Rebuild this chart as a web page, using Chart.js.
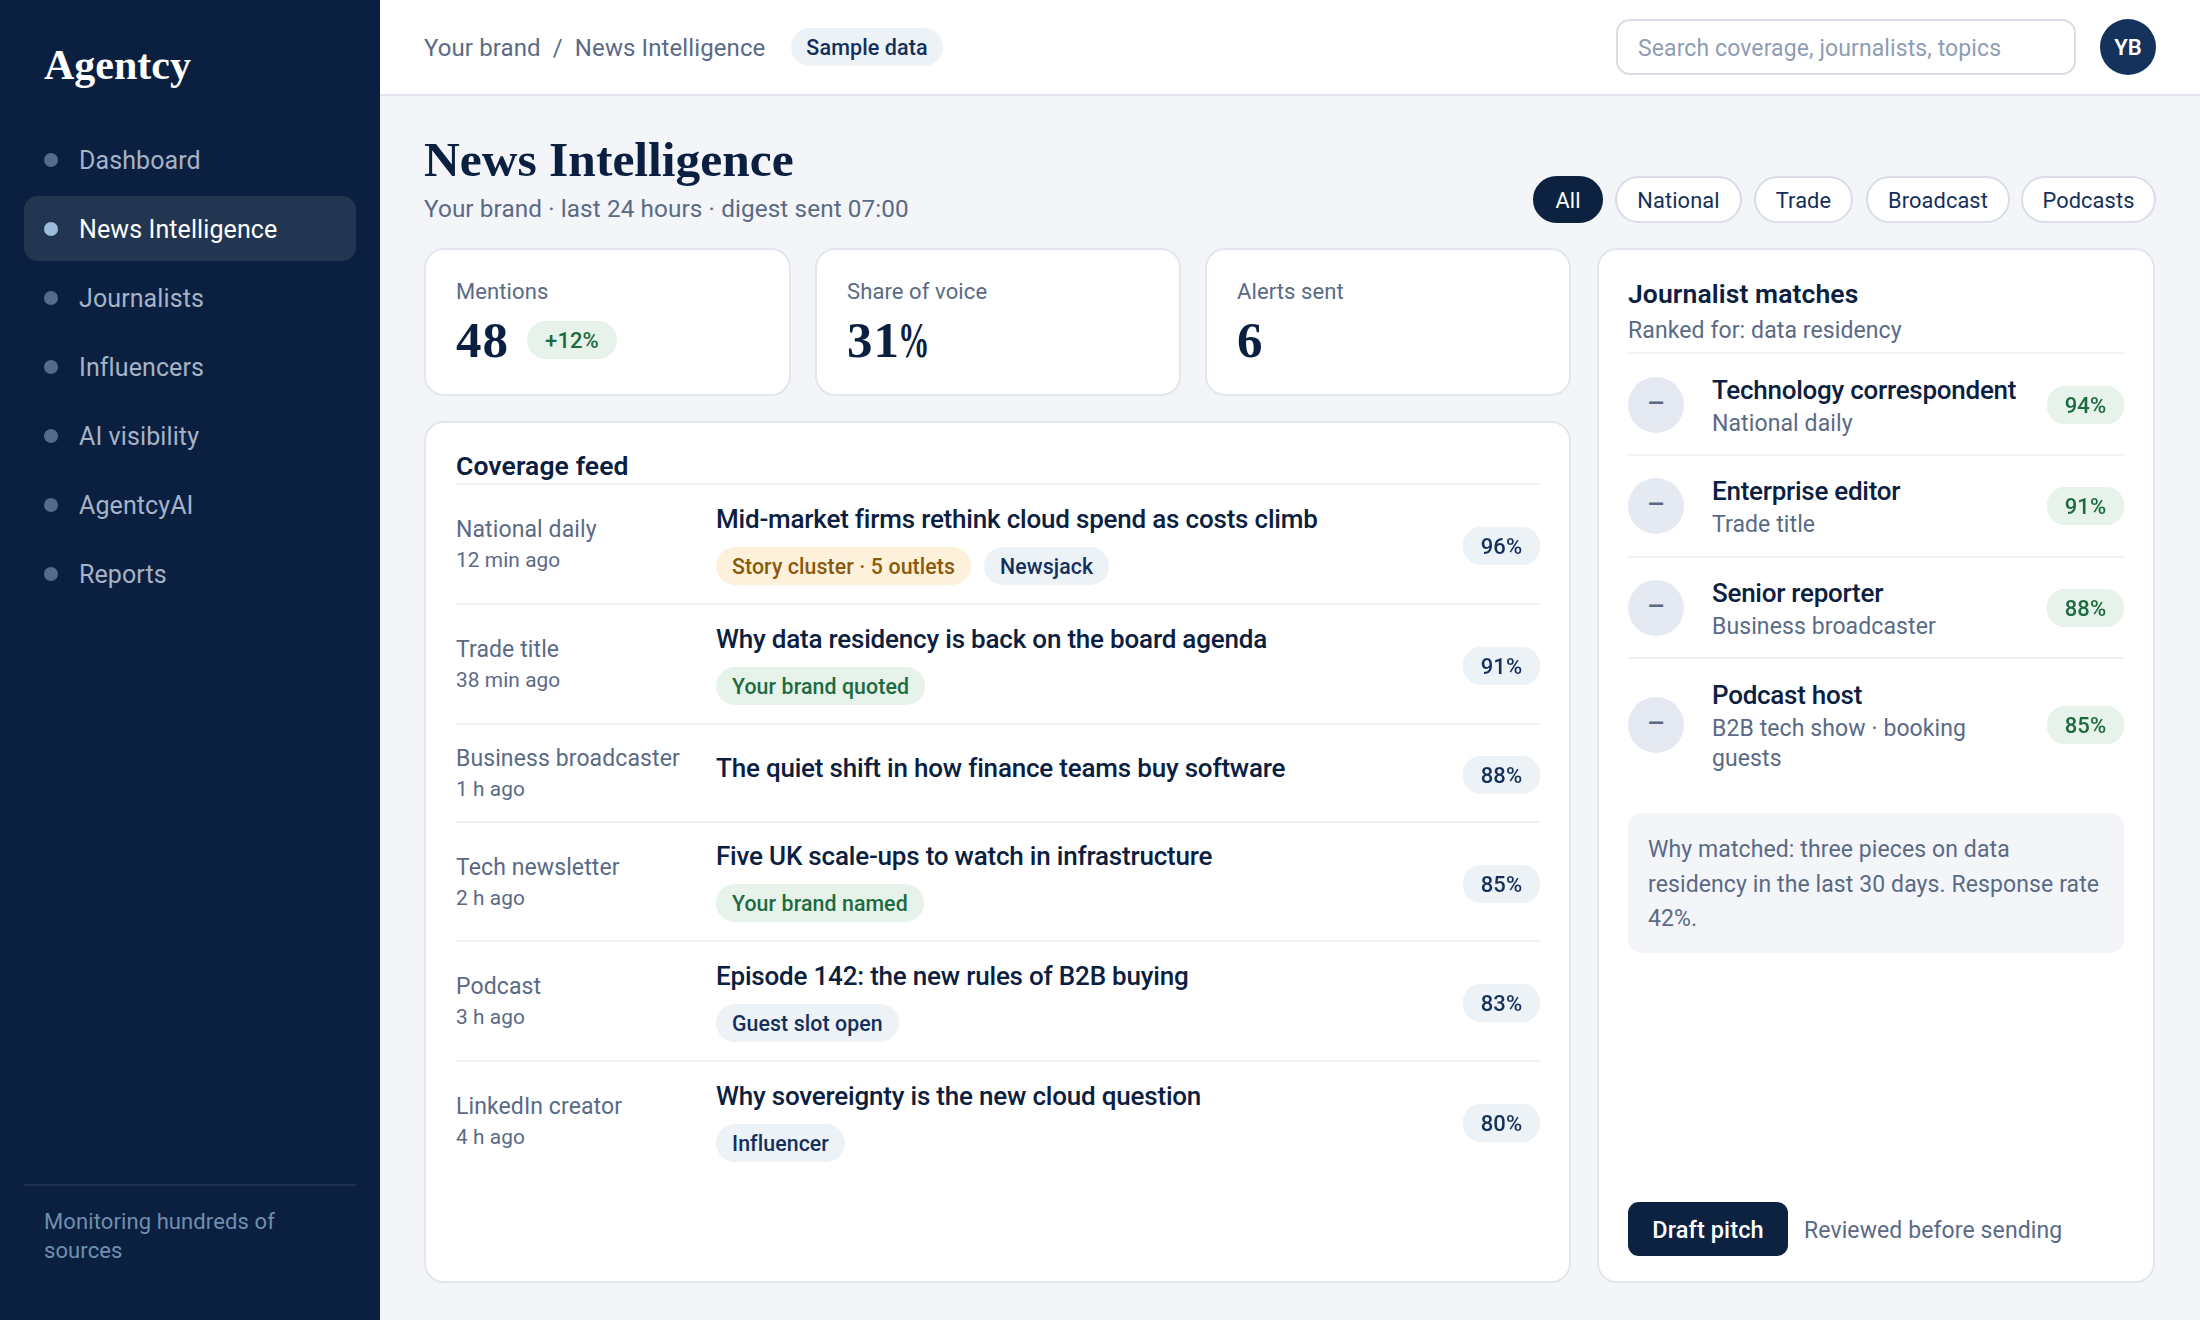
<!DOCTYPE html>
<html lang="en">
<head>
<meta charset="utf-8">
<title>News Intelligence</title>
<script src="https://cdn.jsdelivr.net/npm/chart.js@4"></script>
<style>
* { box-sizing: border-box; }
html, body { margin: 0; width: 2200px; height: 1320px; overflow: hidden; background: #f3f5f9; }
body { font-family: Roboto, sans-serif; color: #0b2040; font-size: 23px; letter-spacing: 0.1px; position: relative; }
.serif { font-family: "Liberation Serif", serif; font-weight: 700; letter-spacing: 0; }
.abs { position: absolute; }
.muted { color: #5a6a85; }

#sidebar { left: 0; top: 0; width: 380px; height: 1320px; background: #0b2040; }
#logo { left: 44px; top: 40px; font-size: 42px; line-height: 50px; color: #fff; }
.nav { position: absolute; left: 24px; width: 332px; height: 65px; border-radius: 14px; color: #a6b3c6; font-size: 25px; line-height: 67px; padding-left: 55px; }
.nav::before { content: ""; position: absolute; left: 20px; top: 26px; width: 14px; height: 14px; border-radius: 50%; background: #566a8a; }
.nav.active { background: #233651; color: #fff; }
.nav.active::before { background: #9dbcdc; }
#side-rule { left: 24px; top: 1184px; width: 332px; height: 2px; background: #1f3350; }
#side-note { left: 44px; top: 1207px; width: 300px; font-size: 22px; line-height: 29px; color: #6f8fb0; }

#topbar { left: 380px; top: 0; width: 1820px; height: 96px; background: #fff; border-bottom: 2px solid #e2e6ed; }
#crumb { left: 424px; top: 30px; font-size: 24px; line-height: 36px; color: #5a6a85; white-space: pre; }
#sample { left: 791px; top: 28px; width: 152px; height: 38px; border-radius: 19px; background: #edf2f7; color: #14305a; font-size: 21.5px; font-weight: 500; line-height: 40px; text-align: center; }
#search { left: 1616px; top: 19px; width: 460px; height: 56px; border: 2.5px solid #d8dde6; border-radius: 14px; background: #fff; color: #8f9db3; font-size: 23px; line-height: 55px; padding-left: 20px; }
#avatar { left: 2100px; top: 19px; width: 56px; height: 56px; border-radius: 50%; background: #14325c; color: #fff; font-size: 22px; font-weight: 600; line-height: 57px; text-align: center; }

#title { left: 424px; top: 132px; font-size: 49.5px; line-height: 56px; color: #0b2040; }
#subtitle { left: 424px; top: 191px; font-size: 24.3px; line-height: 36px; color: #5a6a85; }
.filter { position: absolute; top: 176px; height: 47px; border: 2.5px solid #d8dde6; border-radius: 24px; background: #fff; color: #14305a; font-size: 21.8px; line-height: 45px; text-align: center; }
.filter.active { background: #0c2240; border-color: #0c2240; color: #fff; }

.card { position: absolute; background: #fff; border: 2.5px solid #e2e6ed; border-radius: 20px; }
.kpi { top: 248px; height: 148px; }
.kpi-label { position: absolute; left: 30px; top: 26px; font-size: 22px; line-height: 32px; color: #5a6a85; }
.kpi-value { position: absolute; left: 30px; top: 60px; font-size: 51px; line-height: 60px; letter-spacing: 1px; }
.kpi-value span { display: inline-block; transform: scaleX(0.62); transform-origin: left center; margin-left: -2px; }
#delta { position: absolute; left: 101px; top: 71px; width: 90px; height: 38px; border-radius: 19px; background: #e6f2ea; color: #1b6b3f; font-size: 22px; font-weight: 500; line-height: 40px; text-align: center; }

#feed { left: 424px; top: 421px; width: 1147px; height: 862px; }
.card-title { position: absolute; font-size: 26.5px; font-weight: 600; line-height: 36px; white-space: nowrap; }
.feed-row { position: absolute; left: 456px; width: 1084px; border-top: 2px solid #eef1f5; display: flex; align-items: center; }
.feed-source { width: 260px; flex: none; position: relative; top: 1px; }
.feed-source div:first-child { font-size: 23px; line-height: 31px; color: #5a6a85; }
.feed-source div:last-child { font-size: 20.8px; line-height: 31px; color: #5a6a85; }
.feed-main { flex: 1; }
.headline { font-size: 26px; font-weight: 500; line-height: 36px; color: #0b2040; letter-spacing: -0.2px; position: relative; top: -2px; }
.feed-main.plain { margin-bottom: 6px; }
.tags { display: flex; gap: 13px; margin-top: 9px; position: relative; top: -1px; }
.tag { height: 38px; border-radius: 19px; padding: 0 16px; font-size: 21.3px; font-weight: 500; line-height: 40px; white-space: nowrap; }
.tag.alert { background: #fdf1dc; color: #8a5a0b; }
.tag.neutral { background: #edf2f7; color: #14305a; }
.tag.good { background: #e6f2ea; color: #1b6b3f; }

.score { position: relative; width: 77px; height: 38px; flex: none; }
.score canvas { position: absolute; left: 0; top: 0; }
.score span { position: absolute; left: 0; top: 0; width: 100%; font-size: 22px; font-weight: 500; line-height: 40px; text-align: center; }
.score.feed-score { top: 2px; }
.score.feed-score span { color: #14305a; }
.score.match-score span { color: #1b6b3f; }

#matches { left: 1597px; top: 248px; width: 558px; height: 1035px; }
.match-row { position: absolute; left: 1628px; width: 496px; border-top: 2px solid #eef1f5; display: flex; align-items: center; }
.match-icon { width: 56px; height: 56px; border-radius: 50%; background: #e5eaf2; color: #5a6a85; font-size: 28px; font-weight: 500; line-height: 54px; text-align: center; flex: none; margin-right: 28px; }
.match-text { flex: 1; }
.match-role { font-size: 26px; font-weight: 500; line-height: 36px; color: #0b2040; white-space: nowrap; letter-spacing: -0.26px; }
.match-outlet { font-size: 23px; line-height: 30px; color: #5a6a85; width: 290px; position: relative; top: 1px; }
#why { left: 1628px; top: 813px; width: 496px; height: 140px; border-radius: 14px; background: #f3f5f9; color: #5a6a85; font-size: 23px; line-height: 34.5px; padding: 20px 20px; }
#draft { left: 1628px; top: 1202px; width: 160px; height: 54px; border-radius: 11px; background: #0c2240; color: #fff; font-size: 23.5px; font-weight: 500; line-height: 56px; text-align: center; }
#reviewed { left: 1804px; top: 1213px; font-size: 23px; line-height: 36px; color: #5a6a85; }
</style>
</head>
<body>
<div class="abs" id="sidebar"></div>
<div class="abs serif" id="logo">Agentcy</div>
<div id="nav-list"></div>
<div class="abs" id="side-rule"></div>
<div class="abs" id="side-note">Monitoring hundreds of sources</div>

<div class="abs" id="topbar"></div>
<div class="abs" id="crumb">Your brand  /  News Intelligence</div>
<div class="abs" id="sample">Sample data</div>
<div class="abs" id="search">Search coverage, journalists, topics</div>
<div class="abs" id="avatar">YB</div>

<div class="abs serif" id="title">News Intelligence</div>
<div class="abs" id="subtitle">Your brand · last 24 hours · digest sent 07:00</div>
<div id="filter-list"></div>
<div id="kpi-list"></div>

<div class="card" id="feed"></div>
<div class="card-title" style="left:456px;top:448px">Coverage feed</div>
<div id="feed-list"></div>

<div class="card" id="matches"></div>
<div class="card-title" style="left:1628px;top:276px">Journalist matches</div>
<div class="abs muted" style="left:1628px;top:315px;line-height:32px">Ranked for: data residency</div>
<div id="match-list"></div>
<div class="abs" id="why">Why matched: three pieces on data residency in the last 30 days. Response rate 42%.</div>
<div class="abs" id="draft">Draft pitch</div>
<div class="abs" id="reviewed">Reviewed before sending</div>

<script>
const navItems = ['Dashboard', 'News Intelligence', 'Journalists', 'Influencers', 'AI visibility', 'AgentcyAI', 'Reports'];
const filterLabels = ['All', 'National', 'Trade', 'Broadcast', 'Podcasts'];

const kpiLabels = ['Mentions', 'Share of voice', 'Alerts sent'];
const kpiValues = ['48', '31%', '6'];

const feedSources = ['National daily', 'Trade title', 'Business broadcaster', 'Tech newsletter', 'Podcast', 'LinkedIn creator'];
const feedTimes = ['12 min ago', '38 min ago', '1 h ago', '2 h ago', '3 h ago', '4 h ago'];
const feedHeadlines = [
    'Mid-market firms rethink cloud spend as costs climb',
    'Why data residency is back on the board agenda',
    'The quiet shift in how finance teams buy software',
    'Five UK scale-ups to watch in infrastructure',
    'Episode 142: the new rules of B2B buying',
    'Why sovereignty is the new cloud question'
];
const feedTags = [
    [['Story cluster · 5 outlets', 'alert'], ['Newsjack', 'neutral']],
    [['Your brand quoted', 'good']],
    [],
    [['Your brand named', 'good']],
    [['Guest slot open', 'neutral']],
    [['Influencer', 'neutral']]
];
const feedScores = [96, 91, 88, 85, 83, 80];

const matchRoles = ['Technology correspondent', 'Enterprise editor', 'Senior reporter', 'Podcast host'];
const matchOutlets = ['National daily', 'Trade title', 'Business broadcaster', 'B2B tech show · booking guests'];
const matchScores = [94, 91, 88, 85];

// layout of the hand-placed page furniture, in page pixels
const navTops = [127, 196, 265, 334, 403, 472, 541];
const filterBoxes = [[1533, 70], [1615, 127], [1754, 99], [1866, 144], [2021, 135]];
const kpiBoxes = [[424, 367], [815, 366], [1205, 366]];
const feedRowTops = [483, 603, 723, 821, 940, 1060];
const feedRowHeights = [120, 120, 98, 119, 120, 120];
const matchRowTops = [352, 454, 556, 657];
const matchRowHeights = [103, 102, 101, 133];

function addEl(parent, className, text) {
    const el = document.createElement('div');
    el.className = className;
    if (text !== undefined) el.textContent = text;
    parent.appendChild(el);
    return el;
}

// score chip: a one-bar Chart.js chart scaled to its own value, with the label on top
function scoreChip(parent, kind, value, label, color) {
    const box = addEl(parent, 'score ' + kind);
    const canvas = document.createElement('canvas');
    box.appendChild(canvas);
    const text = document.createElement('span');
    text.textContent = value + '%';
    box.appendChild(text);

    new Chart(canvas, {
        type: 'bar',
        data: {
            labels: [label],
            datasets: [{
                data: [value],
                backgroundColor: color,
                borderRadius: 19,
                borderSkipped: false,
                barPercentage: 1,
                categoryPercentage: 1
            }]
        },
        options: {
            indexAxis: 'y',
            responsive: true,
            maintainAspectRatio: false,
            animation: false,
            events: [],
            layout: { padding: 0 },
            plugins: { legend: { display: false }, tooltip: { enabled: false } },
            scales: {
                x: { display: false, min: 0, max: value },
                y: { display: false }
            }
        }
    });
}

const navList = document.getElementById('nav-list');
navItems.forEach((name, i) => {
    const el = addEl(navList, 'nav' + (name === 'News Intelligence' ? ' active' : ''), name);
    el.style.top = navTops[i] + 'px';
});

const filterList = document.getElementById('filter-list');
filterLabels.forEach((name, i) => {
    const el = addEl(filterList, 'filter' + (i === 0 ? ' active' : ''), name);
    el.style.left = filterBoxes[i][0] + 'px';
    el.style.width = filterBoxes[i][1] + 'px';
});

const kpiList = document.getElementById('kpi-list');
kpiLabels.forEach((name, i) => {
    const card = addEl(kpiList, 'card kpi');
    card.style.left = kpiBoxes[i][0] + 'px';
    card.style.width = kpiBoxes[i][1] + 'px';
    addEl(card, 'kpi-label', name);
    const value = addEl(card, 'kpi-value serif', kpiValues[i]);
    // the percent sign is narrower than Liberation Serif's own
    if (kpiValues[i].endsWith('%')) {
        value.textContent = kpiValues[i].slice(0, -1);
        const pct = document.createElement('span');
        pct.textContent = '%';
        value.appendChild(pct);
    }
    if (i === 0) {
        const delta = addEl(card, '', '+12%');
        delta.id = 'delta';
    }
});

const feedList = document.getElementById('feed-list');
feedSources.forEach((source, i) => {
    const row = addEl(feedList, 'feed-row');
    row.style.top = feedRowTops[i] + 'px';
    row.style.height = feedRowHeights[i] + 'px';

    const sourceBox = addEl(row, 'feed-source');
    addEl(sourceBox, '', source);
    addEl(sourceBox, '', feedTimes[i]);

    const main = addEl(row, 'feed-main' + (feedTags[i].length ? '' : ' plain'));
    addEl(main, 'headline', feedHeadlines[i]);
    if (feedTags[i].length) {
        const tags = addEl(main, 'tags');
        feedTags[i].forEach(t => addEl(tags, 'tag ' + t[1], t[0]));
    }

    scoreChip(row, 'feed-score', feedScores[i], source, '#edf2f7');
});

const matchList = document.getElementById('match-list');
matchRoles.forEach((role, i) => {
    const row = addEl(matchList, 'match-row');
    row.style.top = matchRowTops[i] + 'px';
    row.style.height = matchRowHeights[i] + 'px';

    addEl(row, 'match-icon', '–');
    const text = addEl(row, 'match-text');
    addEl(text, 'match-role', role);
    addEl(text, 'match-outlet', matchOutlets[i]);

    scoreChip(row, 'match-score', matchScores[i], role, '#e6f2ea');
});
</script>
</body>
</html>
